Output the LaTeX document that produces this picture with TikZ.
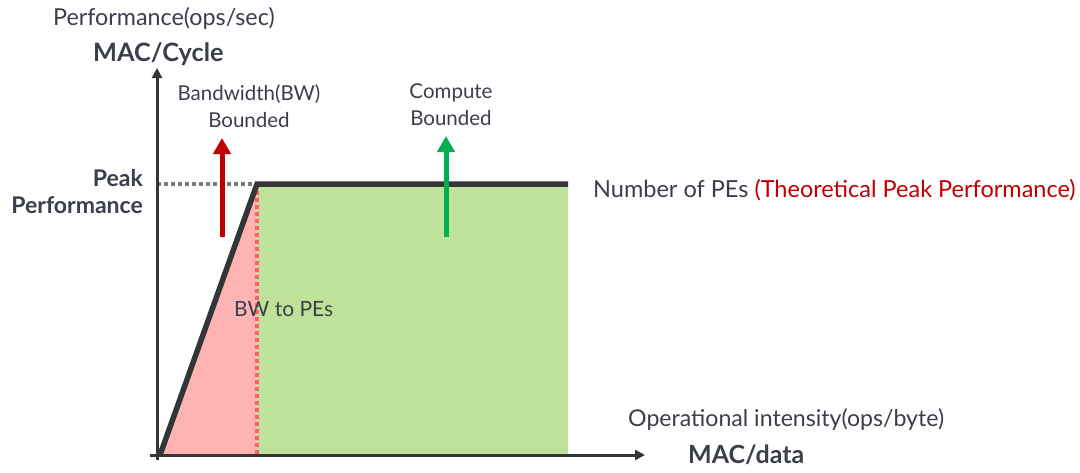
\documentclass[tikz,border=0pt]{standalone}
\usepackage{fontspec}
\setmainfont{Lato}
\usetikzlibrary{arrows.meta}
\definecolor{txt}{HTML}{3B3F4C}
\definecolor{axis}{HTML}{333638}
\definecolor{redc}{HTML}{C00000}
\definecolor{greenc}{HTML}{00B050}
\definecolor{greenfill}{HTML}{BFE29A}
\definecolor{pinkfill}{HTML}{FFB3B3}
\definecolor{reddot}{HTML}{FF5C6C}
\definecolor{graydot}{HTML}{7A7A7A}
\tikzset{
  lbl/.style={text=txt, inner sep=0pt},
  fs/.style={font=\fontsize{#1}{27}\selectfont},
  bfs/.style={font=\fontsize{#1}{27}\selectfont\bfseries},
  axisline/.style={draw=axis, line width=3pt, -{Triangle[width=10pt,length=10pt]}},
  roof/.style={draw=axis, line width=5.5pt, line join=miter},
  bigarrow/.style={line width=5pt, -{Triangle[width=17pt,length=16pt]}},
  dotline/.style={line width=3.5pt, dash pattern=on 3.5pt off 3.5pt},
}
\begin{document}
\begin{tikzpicture}[x=1pt,y=-1pt]
\useasboundingbox[fill=white] (0,0) rectangle (1080,472);
% key points
\coordinate (S) at (160,455);
\coordinate (P1) at (257,184);
\coordinate (P2) at (568,184);
\coordinate (B1) at (257,455);
\coordinate (B2) at (568,455);
\coordinate (Yp) at (157,184);
\coordinate (Ytop) at (157,68);
\coordinate (Ybot) at (157,460);
\coordinate (Xl) at (150,455);
\coordinate (Xr) at (645,455);
\coordinate (RA0) at (222,237);
\coordinate (RA1) at (222,138);
\coordinate (GA0) at (446,237);
\coordinate (GA1) at (446,136);
% regions
\fill[pinkfill] (S) -- (P1) -- (B1) -- cycle;
\fill[greenfill] (P1) rectangle (B2);
\draw[reddot, dotline] (P1) -- (B1);
\draw[graydot, dotline] (Yp) -- (P1);
% axes
\draw[axisline] (Ybot) -- (Ytop);
\draw[axisline] (Xl) -- (Xr);
% roofline
\draw[roof] (S) -- (P1) -- (P2);
% arrows
\draw[bigarrow, redc] (RA0) -- (RA1);
\draw[bigarrow, greenc] (GA0) -- (GA1);
% labels
\node[lbl, fs=23.3, anchor=base west] (perf) at (53,25) {Performance(ops/sec)};
\node[lbl, bfs=25.3, anchor=base west] (mac) at (93,61) {MAC/Cycle};
\node[lbl, fs=20.5, align=center, anchor=base] (bw) at (249,127) {Bandwidth(BW)\\Bounded};
\node[lbl, fs=20.5, align=center, anchor=base] (cb) at (451,125) {Compute\\Bounded};
\node[lbl, bfs=23, align=right, anchor=base east] (peak) at (143,213) {Peak\\Performance};
\node[lbl, fs=23.5, anchor=base west] (npe) at (593,197) {Number of PEs \textcolor{redc}{(Theoretical Peak Performance)}};
\node[lbl, fs=21, anchor=base west] (bwpe) at (234,316) {BW to PEs};
\node[lbl, fs=23.1, anchor=base west] (oi) at (628,426) {Operational intensity(ops/byte)};
\node[lbl, bfs=25, anchor=base west] (macd) at (688,463) {MAC/data};
\end{tikzpicture}
\end{document}
